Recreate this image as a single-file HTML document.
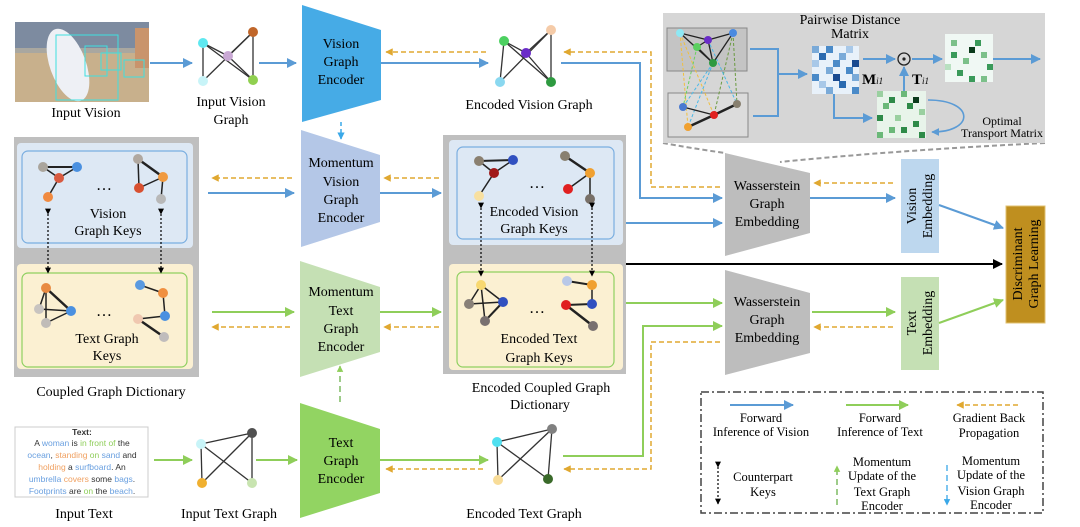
<!DOCTYPE html>
<html><head><meta charset="utf-8"><style>
html,body{margin:0;padding:0;background:#fff;}
svg{display:block;font-family:"Liberation Serif",serif;}
</style></head><body>
<svg width="1080" height="527" viewBox="0 0 1080 527" xmlns="http://www.w3.org/2000/svg">
<defs>
<marker id="ab" viewBox="0 0 10 10" refX="9" refY="5" markerWidth="5" markerHeight="5" orient="auto"><path d="M0,0L10,5L0,10z" fill="#5b9bd5"/></marker>
<marker id="ag" viewBox="0 0 10 10" refX="9" refY="5" markerWidth="5" markerHeight="5" orient="auto"><path d="M0,0L10,5L0,10z" fill="#8fce5a"/></marker>
<marker id="ao" viewBox="0 0 10 10" refX="9" refY="5" markerWidth="5" markerHeight="5" orient="auto"><path d="M0,0L10,5L0,10z" fill="#e0a830"/></marker>
<marker id="ak" viewBox="0 0 10 10" refX="9" refY="5" markerWidth="5" markerHeight="5" orient="auto"><path d="M0,0L10,5L0,10z" fill="#000"/></marker>
<marker id="ac" viewBox="0 0 10 10" refX="9" refY="5" markerWidth="5" markerHeight="5" orient="auto"><path d="M0,0L10,5L0,10z" fill="#3aa8e8"/></marker>
</defs>

<!-- Input Vision photo -->
<rect x="15" y="22" width="134" height="80" fill="#c8b08c"/>
<rect x="15" y="22" width="134" height="28" fill="#7d8ba0"/>
<rect x="15" y="48" width="134" height="5" fill="#a9a7a0"/>
<ellipse cx="68" cy="65" rx="18" ry="38" fill="#eef0f5" transform="rotate(-20 68 65)"/>
<rect x="135" y="28" width="14" height="40" fill="#c9946c"/>
<rect x="56" y="35" width="62" height="65" fill="none" stroke="#3ee0e0" stroke-width="1"/>
<rect x="85" y="46" width="22" height="30" fill="none" stroke="#3ee0e0" stroke-width="1"/>
<rect x="101" y="53" width="20" height="17" fill="none" stroke="#3ee0e0" stroke-width="1"/>
<rect x="124" y="60" width="20" height="17" fill="none" stroke="#3ee0e0" stroke-width="1"/>
<text x="86" y="117" font-size="14" text-anchor="middle">Input Vision</text>
<line x1="150" y1="63" x2="192" y2="63" stroke="#5b9bd5" stroke-width="2" marker-end="url(#ab)"/>

<!-- Input Vision Graph -->
<g stroke="#333" stroke-width="1.3">
<line x1="203" y1="43" x2="228" y2="56"/><line x1="228" y1="56" x2="253" y2="80"/><line x1="203" y1="43" x2="253" y2="80"/>
<line x1="228" y1="56" x2="253" y2="32"/><line x1="253" y1="32" x2="253" y2="80"/><line x1="203" y1="81" x2="253" y2="32"/><line x1="203" y1="43" x2="203" y2="81"/>
</g>
<circle cx="203" cy="43" r="5" fill="#5ee8f0"/><circle cx="228" cy="56" r="5" fill="#c9a8d4"/><circle cx="253" cy="32" r="5" fill="#c0662a"/><circle cx="203" cy="81" r="5" fill="#c8f4f8"/><circle cx="253" cy="80" r="5" fill="#90d050"/>
<text x="231" y="106" font-size="14" text-anchor="middle">Input Vision</text>
<text x="231" y="124" font-size="14" text-anchor="middle">Graph</text>
<line x1="259" y1="63" x2="296" y2="63" stroke="#5b9bd5" stroke-width="2" marker-end="url(#ab)"/>

<!-- Vision Graph Encoder -->
<polygon points="302,5 381,30 381,100 302,122" fill="#46abe6"/>
<g font-size="14" text-anchor="middle"><text x="341" y="48">Vision</text><text x="341" y="66">Graph</text><text x="341" y="84">Encoder</text></g>
<line x1="341" y1="122" x2="341" y2="139" stroke="#3aa8e8" stroke-width="1.5" stroke-dasharray="4,3" marker-end="url(#ac)"/>
<line x1="486" y1="52" x2="386" y2="52" stroke="#e0a830" stroke-width="1.5" stroke-dasharray="5,3" marker-end="url(#ao)"/>
<line x1="381" y1="63" x2="488" y2="63" stroke="#5b9bd5" stroke-width="2" marker-end="url(#ab)"/>

<!-- Encoded Vision Graph -->
<g stroke="#333" stroke-width="1.3">
<line x1="504" y1="41" x2="526" y2="53"/><line x1="526" y1="53" x2="551" y2="82"/><line x1="504" y1="41" x2="551" y2="82"/>
<line x1="526" y1="53" x2="551" y2="30"/><line x1="551" y1="30" x2="551" y2="82"/><line x1="500" y1="82" x2="551" y2="30"/><line x1="504" y1="41" x2="500" y2="82"/>
</g>
<circle cx="504" cy="41" r="5" fill="#4cd060"/><circle cx="526" cy="53" r="5" fill="#6a2cc8"/><circle cx="551" cy="30" r="5" fill="#f5cba8"/><circle cx="500" cy="82" r="5" fill="#8ad8f0"/><circle cx="551" cy="82" r="5" fill="#2e9a40"/>
<text x="529" y="109" font-size="14" text-anchor="middle">Encoded Vision Graph</text>

<!-- connectors vision to WGE -->
<polyline points="561,63 640,63 640,198 722,198" fill="none" stroke="#5b9bd5" stroke-width="2" marker-end="url(#ab)"/>
<polyline points="720,187 651,187 651,52 564,52" fill="none" stroke="#e0a830" stroke-width="1.5" stroke-dasharray="5,3" marker-end="url(#ao)"/>

<!-- Top right panel -->
<path d="M663,143 Q690,148 725,153" fill="none" stroke="#999" stroke-width="2" stroke-dasharray="5,3"/>
<path d="M1045,143 Q900,150 780,162" fill="none" stroke="#999" stroke-width="2" stroke-dasharray="5,3"/>
<rect x="663" y="13" width="382" height="130" fill="#d6d6d6"/>
<rect x="667" y="28" width="80" height="43" fill="#c4c4c4" stroke="#888" stroke-width="1"/>
<rect x="668" y="93" width="80" height="44" fill="#dcdcdc" stroke="#888" stroke-width="1"/>
<g stroke-width="1" stroke-dasharray="3,2" fill="none">
<line x1="680" y1="33" x2="688" y2="127" stroke="#f0c040"/><line x1="680" y1="33" x2="714" y2="115" stroke="#f0c040"/>
<line x1="697" y1="47" x2="683" y2="107" stroke="#6ad060"/><line x1="713" y1="63" x2="688" y2="127" stroke="#4ab8e8"/>
<line x1="713" y1="63" x2="683" y2="107" stroke="#4ab8e8"/><line x1="733" y1="33" x2="737" y2="104" stroke="#6a9a40"/>
<line x1="733" y1="33" x2="714" y2="115" stroke="#6a9a40"/><line x1="708" y1="40" x2="737" y2="104" stroke="#4ab8e8"/>
</g>
<g stroke="#222" stroke-width="1.3">
<line x1="680" y1="33" x2="708" y2="40"/><line x1="680" y1="33" x2="713" y2="63"/><line x1="697" y1="47" x2="708" y2="40"/><line x1="708" y1="40" x2="733" y2="33"/><line x1="708" y1="40" x2="713" y2="63"/><line x1="733" y1="33" x2="713" y2="63"/><line x1="697" y1="47" x2="713" y2="63"/>
<line x1="683" y1="107" x2="714" y2="115"/><line x1="714" y1="115" x2="737" y2="104"/><line x1="688" y1="127" x2="714" y2="115" stroke-width="2.5"/><line x1="714" y1="115" x2="737" y2="104" stroke-width="2.5"/>
</g>
<circle cx="680" cy="33" r="4" fill="#8ee8f4"/><circle cx="697" cy="47" r="4" fill="#5cd060"/><circle cx="708" cy="40" r="4" fill="#6a2cc8"/><circle cx="733" cy="33" r="4" fill="#4a8ae0"/><circle cx="713" cy="63" r="4" fill="#2e9a40"/>
<circle cx="683" cy="107" r="4" fill="#4a7ad0"/><circle cx="714" cy="115" r="4" fill="#e02020"/><circle cx="737" cy="104" r="4" fill="#888070"/><circle cx="688" cy="127" r="4" fill="#f0a030"/>
<polyline points="750,49 778,49 778,116 753,116" fill="none" stroke="#5b9bd5" stroke-width="2"/>
<line x1="778" y1="74" x2="807" y2="74" stroke="#5b9bd5" stroke-width="2" marker-end="url(#ab)"/>
<text x="850" y="24" font-size="14" text-anchor="middle">Pairwise Distance</text>
<text x="850" y="38" font-size="14" text-anchor="middle">Matrix</text>
<!-- M matrix -->
<rect x="812" y="46" width="47" height="48" fill="#e8f1fa"/>
<g fill="#2a6ab0">
<rect x="812" y="46" width="7" height="7" fill="#7aaad8"/><rect x="826" y="46" width="7" height="7" fill="#4a8ac8"/><rect x="846" y="46" width="7" height="7" fill="#a8c8e8"/>
<rect x="819" y="53" width="7" height="7"/><rect x="839" y="53" width="7" height="7" fill="#7aaad8"/>
<rect x="812" y="60" width="7" height="7" fill="#a8c8e8"/><rect x="833" y="60" width="7" height="7" fill="#4a8ac8"/><rect x="852" y="60" width="7" height="7" fill="#1a4a90"/>
<rect x="826" y="67" width="7" height="7" fill="#7aaad8"/><rect x="846" y="67" width="7" height="7" fill="#4a8ac8"/>
<rect x="812" y="74" width="7" height="7" fill="#4a8ac8"/><rect x="833" y="74" width="7" height="7" fill="#1a4a90"/><rect x="852" y="74" width="7" height="7" fill="#7aaad8"/>
<rect x="819" y="81" width="7" height="7" fill="#a8c8e8"/><rect x="839" y="81" width="7" height="7"/>
<rect x="826" y="87" width="7" height="7" fill="#7aaad8"/><rect x="852" y="87" width="7" height="7" fill="#4a8ac8"/>
</g>
<text x="862" y="84" font-size="15" font-weight="bold">M<tspan font-size="9" font-style="italic" font-weight="normal">i1</tspan></text>
<line x1="863" y1="59" x2="895" y2="59" stroke="#5b9bd5" stroke-width="2" marker-end="url(#ab)"/>
<circle cx="904" cy="59" r="6" fill="none" stroke="#222" stroke-width="1.3"/><circle cx="904" cy="59" r="1.6" fill="#222"/>
<line x1="912" y1="59" x2="942" y2="59" stroke="#5b9bd5" stroke-width="2" marker-end="url(#ab)"/>
<rect x="945" y="34" width="48" height="48" fill="#f0f8f4"/>
<g fill="#3a9a5a">
<rect x="951" y="40" width="6" height="6" fill="#7cc08a"/><rect x="975" y="40" width="6" height="6"/><rect x="969" y="47" width="6" height="6" fill="#0a3a1a"/>
<rect x="951" y="52" width="6" height="6"/><rect x="981" y="52" width="6" height="6" fill="#7cc08a"/><rect x="963" y="58" width="6" height="6" fill="#7cc08a"/>
<rect x="945" y="64" width="6" height="6" fill="#b8e0c0"/><rect x="957" y="70" width="6" height="6"/><rect x="987" y="64" width="6" height="6"/>
<rect x="969" y="76" width="6" height="6"/><rect x="981" y="76" width="6" height="6" fill="#7cc08a"/>
</g>
<line x1="993" y1="59" x2="1040" y2="59" stroke="#5b9bd5" stroke-width="2" marker-end="url(#ab)"/>
<!-- T matrix -->
<polyline points="834,94 834,118 872,118" fill="none" stroke="#5b9bd5" stroke-width="2" marker-end="url(#ab)"/>
<rect x="877" y="91" width="49" height="47" fill="#e8f4ea"/>
<g fill="#2e8a48">
<rect x="877" y="91" width="6" height="6" fill="#9ad0a0"/><rect x="889" y="97" width="6" height="6"/><rect x="901" y="91" width="6" height="6" fill="#6ab878"/><rect x="913" y="97" width="6" height="6" fill="#0a3a1a"/>
<rect x="883" y="103" width="6" height="6" fill="#6ab878"/><rect x="907" y="103" width="6" height="6"/><rect x="919" y="109" width="6" height="6" fill="#9ad0a0"/>
<rect x="877" y="115" width="6" height="6"/><rect x="895" y="115" width="6" height="6" fill="#9ad0a0"/><rect x="913" y="121" width="6" height="6"/>
<rect x="889" y="127" width="6" height="6" fill="#6ab878"/><rect x="901" y="127" width="6" height="6"/><rect x="877" y="132" width="6" height="6" fill="#6ab878"/><rect x="919" y="132" width="6" height="6"/>
</g>
<line x1="904" y1="91" x2="904" y2="67" stroke="#5b9bd5" stroke-width="2" marker-end="url(#ab)"/>
<text x="912" y="84" font-size="15" font-weight="bold">T<tspan font-size="9" font-style="italic" font-weight="normal">i1</tspan></text>
<path d="M928,100 C975,100 975,132 932,132" fill="none" stroke="#5b9bd5" stroke-width="1.6" marker-end="url(#ab)"/>
<text x="1002" y="125" font-size="12" text-anchor="middle">Optimal</text>
<text x="1002" y="137" font-size="12" text-anchor="middle">Transport Matrix</text>

<!-- Left Coupled Graph Dictionary -->
<rect x="14" y="137" width="185" height="240" fill="#bfbfbf"/>
<rect x="17" y="143" width="176" height="105" rx="4" fill="#dde8f4"/>
<rect x="22" y="151" width="165" height="92" rx="6" fill="none" stroke="#7aaee0" stroke-width="1.2"/>
<rect x="17" y="264" width="176" height="105" rx="4" fill="#fbf0d2"/>
<rect x="22" y="273" width="165" height="94" rx="6" fill="none" stroke="#8fd060" stroke-width="1.2"/>
<g stroke="#222" stroke-width="1.5">
<line x1="43" y1="167" x2="77" y2="167" stroke-width="2"/><line x1="43" y1="167" x2="59" y2="178"/><line x1="77" y1="167" x2="59" y2="178"/><line x1="59" y1="178" x2="48" y2="197"/>
<line x1="138" y1="159" x2="139" y2="188"/><line x1="138" y1="159" x2="163" y2="177" stroke-width="2.5"/><line x1="139" y1="188" x2="163" y2="177"/><line x1="163" y1="177" x2="161" y2="199"/>
<line x1="46" y1="288" x2="39" y2="309"/><line x1="46" y1="288" x2="46" y2="323"/><line x1="46" y1="288" x2="71" y2="311" stroke-width="2.5"/><line x1="39" y1="309" x2="71" y2="311"/><line x1="71" y1="311" x2="46" y2="323"/>
<line x1="140" y1="285" x2="163" y2="293"/><line x1="163" y1="293" x2="165" y2="316"/><line x1="138" y1="319" x2="165" y2="316"/><line x1="138" y1="319" x2="164" y2="337" stroke-width="2.5"/>
</g>
<circle cx="43" cy="167" r="5" fill="#aaa59d"/><circle cx="77" cy="167" r="5" fill="#4a90e0"/><circle cx="59" cy="178" r="5" fill="#d85a40"/><circle cx="48" cy="197" r="5" fill="#f08a40"/>
<circle cx="138" cy="159" r="5" fill="#b0a8a0"/><circle cx="163" cy="177" r="5" fill="#f09a40"/><circle cx="139" cy="188" r="5" fill="#d85030"/><circle cx="161" cy="199" r="5" fill="#b8b8b8"/>
<circle cx="46" cy="288" r="5" fill="#e88a40"/><circle cx="39" cy="309" r="5" fill="#c8c4c0"/><circle cx="71" cy="311" r="5" fill="#4a90e0"/><circle cx="46" cy="323" r="5" fill="#c0bcb8"/>
<circle cx="140" cy="285" r="5" fill="#5a9ae0"/><circle cx="163" cy="293" r="5" fill="#f09040"/><circle cx="138" cy="319" r="5" fill="#f0c8b0"/><circle cx="165" cy="316" r="5" fill="#4a90e0"/><circle cx="164" cy="337" r="5" fill="#c0bcbc"/>
<text x="104" y="190" font-size="16" text-anchor="middle">…</text><text x="104" y="316" font-size="16" text-anchor="middle">…</text>
<g font-size="14" text-anchor="middle"><text x="108" y="218">Vision</text><text x="108" y="235">Graph Keys</text><text x="107" y="343">Text Graph</text><text x="107" y="360">Keys</text></g>
<g stroke="#000" stroke-width="1.2" stroke-dasharray="2,2"><line x1="48" y1="214" x2="48" y2="273" marker-end="url(#ak)" marker-start="url(#ak)"/><line x1="161" y1="214" x2="161" y2="273" marker-end="url(#ak)" marker-start="url(#ak)"/></g>
<text x="111" y="396" font-size="14" text-anchor="middle">Coupled Graph Dictionary</text>

<!-- Momentum encoders -->
<polygon points="301,130 380,155 380,222 301,247" fill="#b4c7e7"/>
<g font-size="14" text-anchor="middle"><text x="341" y="167">Momentum</text><text x="341" y="186">Vision</text><text x="341" y="204">Graph</text><text x="341" y="222">Encoder</text></g>
<polygon points="300,261 380,287 380,352 300,377" fill="#c5e0b4"/>
<g font-size="14" text-anchor="middle"><text x="341" y="296">Momentum</text><text x="341" y="315">Text</text><text x="341" y="333">Graph</text><text x="341" y="351">Encoder</text></g>
<line x1="292" y1="178" x2="212" y2="178" stroke="#e0a830" stroke-width="1.5" stroke-dasharray="5,3" marker-end="url(#ao)"/>
<line x1="208" y1="193" x2="294" y2="193" stroke="#5b9bd5" stroke-width="2" marker-end="url(#ab)"/>
<line x1="439" y1="178" x2="384" y2="178" stroke="#e0a830" stroke-width="1.5" stroke-dasharray="5,3" marker-end="url(#ao)"/>
<line x1="380" y1="193" x2="441" y2="193" stroke="#5b9bd5" stroke-width="2" marker-end="url(#ab)"/>
<line x1="212" y1="312" x2="294" y2="312" stroke="#8fce5a" stroke-width="2" marker-end="url(#ag)"/>
<line x1="290" y1="327" x2="212" y2="327" stroke="#e0a830" stroke-width="1.5" stroke-dasharray="5,3" marker-end="url(#ao)"/>
<line x1="380" y1="312" x2="441" y2="312" stroke="#8fce5a" stroke-width="2" marker-end="url(#ag)"/>
<line x1="439" y1="327" x2="384" y2="327" stroke="#e0a830" stroke-width="1.5" stroke-dasharray="5,3" marker-end="url(#ao)"/>
<line x1="340" y1="402" x2="340" y2="366" stroke="#6ab04a" stroke-width="1.3" stroke-dasharray="6,4" marker-end="url(#ag)"/>

<!-- Encoded Coupled Graph Dictionary -->
<rect x="443" y="135" width="183" height="239" fill="#bfbfbf"/>
<rect x="449" y="140" width="174" height="105" rx="4" fill="#dde8f4"/>
<rect x="457" y="147" width="157" height="92" rx="6" fill="none" stroke="#7aaee0" stroke-width="1.2"/>
<rect x="449" y="264" width="174" height="106" rx="4" fill="#fbf0d2"/>
<rect x="457" y="272" width="157" height="95" rx="6" fill="none" stroke="#8fd060" stroke-width="1.2"/>
<g stroke="#222" stroke-width="1.5">
<line x1="479" y1="161" x2="513" y2="160" stroke-width="2"/><line x1="479" y1="161" x2="494" y2="173"/><line x1="513" y1="160" x2="494" y2="173"/><line x1="494" y1="173" x2="479" y2="196"/>
<line x1="565" y1="156" x2="590" y2="173" stroke-width="2.5"/><line x1="590" y1="173" x2="568" y2="189"/><line x1="590" y1="173" x2="590" y2="199"/>
<line x1="481" y1="285" x2="469" y2="304"/><line x1="481" y1="285" x2="485" y2="321"/><line x1="481" y1="285" x2="503" y2="302"/><line x1="469" y1="304" x2="503" y2="302"/><line x1="503" y1="302" x2="485" y2="321" stroke-width="2"/>
<line x1="567" y1="281" x2="592" y2="285" stroke-width="2"/><line x1="592" y1="285" x2="592" y2="304"/><line x1="566" y1="305" x2="592" y2="304" stroke-width="2"/><line x1="566" y1="305" x2="593" y2="326" stroke-width="2.5"/>
</g>
<circle cx="479" cy="161" r="5" fill="#8a8070"/><circle cx="513" cy="160" r="5" fill="#3050c0"/><circle cx="494" cy="173" r="5" fill="#a01818"/><circle cx="479" cy="196" r="5" fill="#f8e0a0"/>
<circle cx="565" cy="156" r="5" fill="#888070"/><circle cx="590" cy="173" r="5" fill="#f0a030"/><circle cx="568" cy="189" r="5" fill="#e02020"/><circle cx="590" cy="199" r="5" fill="#787068"/>
<circle cx="481" cy="285" r="5" fill="#f8d870"/><circle cx="469" cy="304" r="5" fill="#888078"/><circle cx="503" cy="302" r="5" fill="#3050c0"/><circle cx="485" cy="321" r="5" fill="#787070"/>
<circle cx="567" cy="281" r="5" fill="#b8c8e8"/><circle cx="592" cy="285" r="5" fill="#f0a030"/><circle cx="566" cy="305" r="5" fill="#e02020"/><circle cx="592" cy="304" r="5" fill="#3050c0"/><circle cx="593" cy="326" r="5" fill="#787070"/>
<text x="537" y="188" font-size="16" text-anchor="middle">…</text><text x="537" y="313" font-size="16" text-anchor="middle">…</text>
<g font-size="14" text-anchor="middle"><text x="534" y="216">Encoded Vision</text><text x="534" y="233">Graph Keys</text><text x="539" y="343">Encoded Text</text><text x="539" y="362">Graph Keys</text></g>
<g stroke="#000" stroke-width="1.2" stroke-dasharray="2,2"><line x1="481" y1="208" x2="481" y2="276" marker-end="url(#ak)" marker-start="url(#ak)"/><line x1="592" y1="208" x2="592" y2="276" marker-end="url(#ak)" marker-start="url(#ak)"/></g>
<text x="541" y="392" font-size="14" text-anchor="middle">Encoded Coupled Graph</text>
<text x="540" y="409" font-size="14" text-anchor="middle">Dictionary</text>

<!-- WGE -->
<polygon points="725,153 810,173 810,233 725,256" fill="#bdbdbd"/>
<g font-size="14" text-anchor="middle"><text x="767" y="190">Wasserstein</text><text x="767" y="208">Graph</text><text x="767" y="226">Embedding</text></g>
<polygon points="725,270 810,293 810,353 725,375" fill="#bdbdbd"/>
<g font-size="14" text-anchor="middle"><text x="767" y="306">Wasserstein</text><text x="767" y="324">Graph</text><text x="767" y="342">Embedding</text></g>
<line x1="626" y1="223" x2="722" y2="223" stroke="#5b9bd5" stroke-width="2" marker-end="url(#ab)"/>
<line x1="626" y1="264" x2="1002" y2="264" stroke="#000" stroke-width="2" marker-end="url(#ak)"/>
<line x1="626" y1="303" x2="722" y2="303" stroke="#8fce5a" stroke-width="2" marker-end="url(#ag)"/>
<line x1="893" y1="183" x2="814" y2="183" stroke="#e0a830" stroke-width="1.5" stroke-dasharray="5,3" marker-end="url(#ao)"/>
<line x1="810" y1="198" x2="895" y2="198" stroke="#5b9bd5" stroke-width="2" marker-end="url(#ab)"/>
<line x1="812" y1="312" x2="895" y2="312" stroke="#8fce5a" stroke-width="2" marker-end="url(#ag)"/>
<line x1="893" y1="327" x2="814" y2="327" stroke="#e0a830" stroke-width="1.5" stroke-dasharray="5,3" marker-end="url(#ao)"/>
<rect x="901" y="159" width="38" height="94" fill="#bdd7ee"/>
<text transform="translate(916,206) rotate(-90)" font-size="14" text-anchor="middle">Vision</text>
<text transform="translate(932,206) rotate(-90)" font-size="14" text-anchor="middle">Embedding</text>
<rect x="901" y="277" width="38" height="93" fill="#c5e0b4"/>
<text transform="translate(916,323) rotate(-90)" font-size="14" text-anchor="middle">Text</text>
<text transform="translate(932,323) rotate(-90)" font-size="14" text-anchor="middle">Embedding</text>
<line x1="939" y1="205" x2="1003" y2="228" stroke="#5b9bd5" stroke-width="2" marker-end="url(#ab)"/>
<line x1="939" y1="323" x2="1003" y2="300" stroke="#8fce5a" stroke-width="2" marker-end="url(#ag)"/>
<rect x="1006" y="206" width="39" height="117" fill="#bf8f1f" stroke="#e0c070" stroke-width="1"/>
<text transform="translate(1022,264) rotate(-90)" font-size="14" text-anchor="middle">Discriminant</text>
<text transform="translate(1038,264) rotate(-90)" font-size="14" text-anchor="middle">Graph Learning</text>

<!-- Text side -->
<rect x="15" y="427" width="133" height="70" fill="#fff" stroke="#ccc" stroke-width="1"/>
<g font-family="Liberation Sans, sans-serif" font-size="8.5" text-anchor="middle" fill="#333">
<text x="82" y="435" font-weight="bold">Text:</text>
<text x="82" y="446">A <tspan fill="#6aa0e0">woman</tspan> is <tspan fill="#8fce5a">in front of</tspan> the</text>
<text x="82" y="458"><tspan fill="#6aa0e0">ocean</tspan>, <tspan fill="#f0a060">standing</tspan> <tspan fill="#8fce5a">on</tspan> <tspan fill="#6aa0e0">sand</tspan> and</text>
<text x="82" y="470"><tspan fill="#f0a060">holding</tspan> a <tspan fill="#6aa0e0">surfboard</tspan>. An</text>
<text x="82" y="482"><tspan fill="#6aa0e0">umbrella</tspan> <tspan fill="#f0a060">covers</tspan> some <tspan fill="#6aa0e0">bags</tspan>.</text>
<text x="82" y="494"><tspan fill="#6aa0e0">Footprints</tspan> are <tspan fill="#8fce5a">on</tspan> the <tspan fill="#6aa0e0">beach</tspan>.</text>
</g>
<text x="84" y="518" font-size="14" text-anchor="middle">Input Text</text>
<line x1="154" y1="460" x2="192" y2="460" stroke="#8fce5a" stroke-width="2" marker-end="url(#ag)"/>
<g stroke="#333" stroke-width="1.3">
<line x1="201" y1="444" x2="252" y2="433"/><line x1="201" y1="444" x2="202" y2="483"/><line x1="201" y1="444" x2="252" y2="483"/><line x1="252" y1="433" x2="202" y2="483"/><line x1="252" y1="433" x2="252" y2="483"/>
</g>
<circle cx="201" cy="444" r="5" fill="#c8f4f8"/><circle cx="252" cy="433" r="5" fill="#505050"/><circle cx="202" cy="483" r="5" fill="#f0b030"/><circle cx="252" cy="483" r="5" fill="#c8e4b0"/>
<text x="229" y="518" font-size="14" text-anchor="middle">Input Text Graph</text>
<line x1="256" y1="460" x2="297" y2="460" stroke="#8fce5a" stroke-width="2" marker-end="url(#ag)"/>
<polygon points="300,403 380,429 380,493 300,518" fill="#92d462"/>
<g font-size="14" text-anchor="middle"><text x="341" y="447">Text</text><text x="341" y="465">Graph</text><text x="341" y="483">Encoder</text></g>
<line x1="380" y1="460" x2="488" y2="460" stroke="#8fce5a" stroke-width="2" marker-end="url(#ag)"/>
<line x1="483" y1="469" x2="386" y2="469" stroke="#e0a830" stroke-width="1.5" stroke-dasharray="5,3" marker-end="url(#ao)"/>
<g stroke="#333" stroke-width="1.3">
<line x1="497" y1="442" x2="552" y2="429"/><line x1="497" y1="442" x2="498" y2="480"/><line x1="497" y1="442" x2="548" y2="479"/><line x1="552" y1="429" x2="498" y2="480"/><line x1="552" y1="429" x2="548" y2="479"/>
</g>
<circle cx="497" cy="442" r="5" fill="#50e0f0"/><circle cx="552" cy="429" r="5" fill="#808080"/><circle cx="498" cy="480" r="5" fill="#f8dc98"/><circle cx="548" cy="479" r="5" fill="#3a6a2a"/>
<text x="524" y="518" font-size="14" text-anchor="middle">Encoded Text Graph</text>
<polyline points="563,456 643,456 643,326 722,326" fill="none" stroke="#8fce5a" stroke-width="2" marker-end="url(#ag)"/>
<polyline points="720,342 651,342 651,469 564,469" fill="none" stroke="#e0a830" stroke-width="1.5" stroke-dasharray="5,3" marker-end="url(#ao)"/>

<!-- Legend -->
<rect x="701" y="392" width="342" height="121" fill="none" stroke="#444" stroke-width="1.5" stroke-dasharray="8,3,2,3"/>
<line x1="730" y1="405" x2="793" y2="405" stroke="#5b9bd5" stroke-width="2" marker-end="url(#ab)"/>
<line x1="846" y1="405" x2="908" y2="405" stroke="#8fce5a" stroke-width="2" marker-end="url(#ag)"/>
<line x1="1018" y1="405" x2="957" y2="405" stroke="#e0a830" stroke-width="1.5" stroke-dasharray="5,3" marker-end="url(#ao)"/>
<g font-size="12.5" text-anchor="middle">
<text x="761" y="422">Forward</text><text x="761" y="436">Inference of Vision</text>
<text x="880" y="422">Forward</text><text x="880" y="436">Inference of Text</text>
<text x="989" y="422">Gradient Back</text><text x="989" y="437">Propagation</text>
<text x="763" y="481">Counterpart</text><text x="763" y="496">Keys</text>
<text x="882" y="466">Momentum</text><text x="882" y="480">Update of the</text><text x="882" y="496">Text Graph</text><text x="882" y="510">Encoder</text>
<text x="991" y="465">Momentum</text><text x="991" y="479">Update of the</text><text x="991" y="495">Vision Graph</text><text x="991" y="509">Encoder</text>
</g>
<line x1="718" y1="467" x2="718" y2="504" stroke="#000" stroke-width="1.2" stroke-dasharray="2,2" marker-start="url(#ak)" marker-end="url(#ak)"/>
<line x1="837" y1="505" x2="837" y2="466" stroke="#6ab04a" stroke-width="1.3" stroke-dasharray="6,4" marker-end="url(#ag)"/>
<line x1="947" y1="465" x2="947" y2="505" stroke="#3aa8e8" stroke-width="1.3" stroke-dasharray="6,4" marker-end="url(#ac)"/>
</svg>
</body></html>
